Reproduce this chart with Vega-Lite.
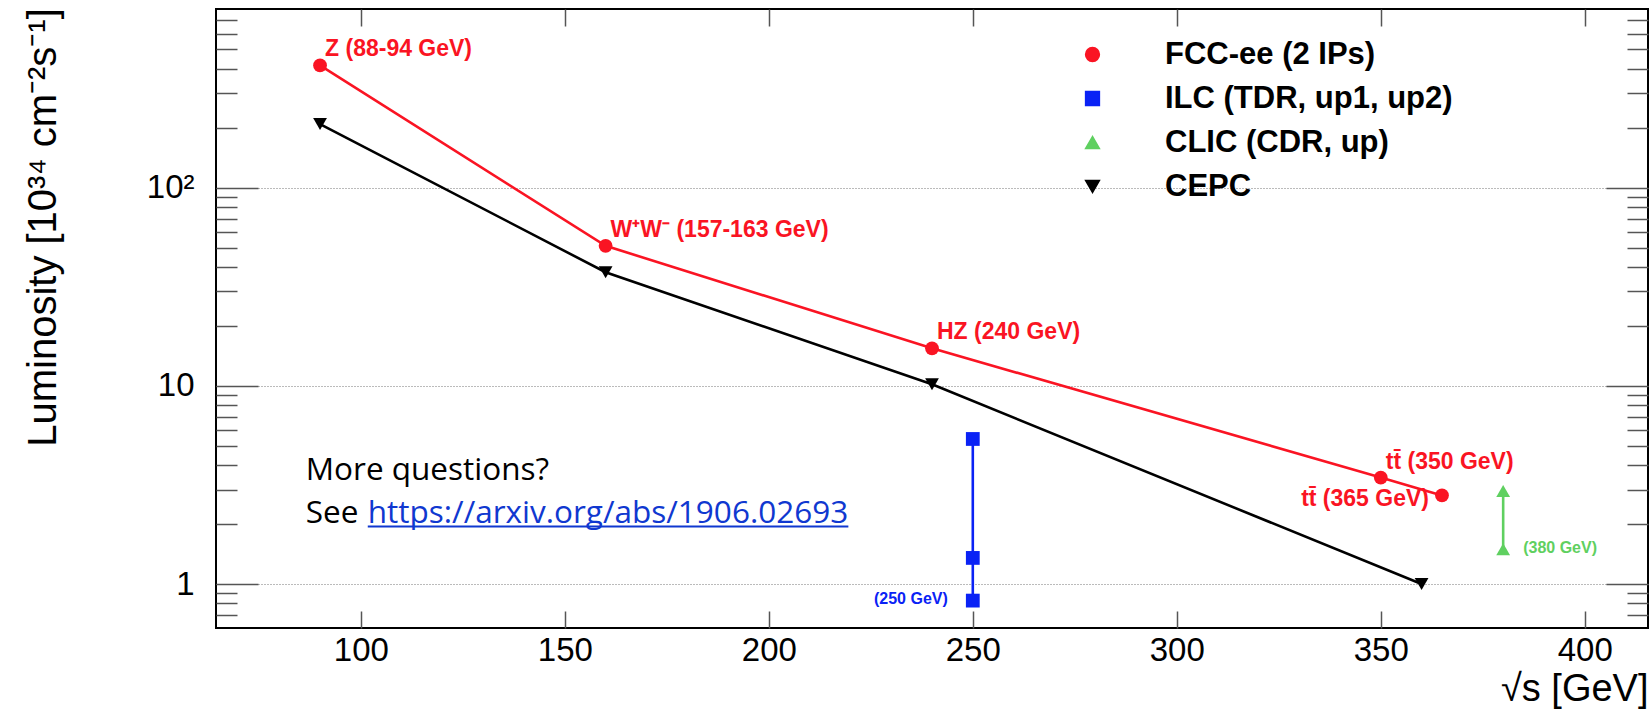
{
  "$schema": "https://vega.github.io/schema/vega-lite/v6.json",
  "width": 1432,
  "height": 619,
  "autosize": {"type": "none"},
  "padding": {"left": 216, "top": 9, "right": 3, "bottom": 85},
  "background": "white",
  "config": {
    "view": {"stroke": "black", "strokeWidth": 2},
    "font": "Liberation Sans",
    "axis": {"labelFont": "Liberation Sans", "titleFont": "Liberation Sans", "labelColor": "black", "titleColor": "black"}
  },
  "datasets": {
    "pts": [
      {"series": "FCC-ee (2 IPs)", "x": 90, "y": 415},
      {"series": "FCC-ee (2 IPs)", "x": 160, "y": 51},
      {"series": "FCC-ee (2 IPs)", "x": 240, "y": 15.5},
      {"series": "FCC-ee (2 IPs)", "x": 350, "y": 3.45},
      {"series": "FCC-ee (2 IPs)", "x": 365, "y": 2.8},
      {"series": "ILC (TDR, up1, up2)", "x": 250, "y": 0.825},
      {"series": "ILC (TDR, up1, up2)", "x": 250, "y": 1.355},
      {"series": "ILC (TDR, up1, up2)", "x": 250, "y": 5.4},
      {"series": "CLIC (CDR, up)", "x": 380, "y": 1.5},
      {"series": "CLIC (CDR, up)", "x": 380, "y": 2.95},
      {"series": "CEPC", "x": 90, "y": 210},
      {"series": "CEPC", "x": 160, "y": 37.5},
      {"series": "CEPC", "x": 240, "y": 10.2},
      {"series": "CEPC", "x": 360, "y": 1.0}
    ],
    "labels": [
      {"kind": "redL", "text": "Z (88-94 GeV)", "x": 90, "y": 415},
      {"kind": "redL", "text": "W⁺W⁻ (157-163 GeV)", "x": 160, "y": 51},
      {"kind": "redL", "text": "HZ (240 GeV)", "x": 240, "y": 15.5},
      {"kind": "redL", "text": "tt̄ (350 GeV)", "x": 350, "y": 3.45},
      {"kind": "redR", "text": "tt̄ (365 GeV)", "x": 365, "y": 2.8},
      {"kind": "blue", "text": "(250 GeV)", "x": 250, "y": 0.825},
      {"kind": "green", "text": "(380 GeV)", "x": 380, "y": 1.5}
    ],
    "note": [
      {"kind": "plain", "text": "More questions?", "x": 86.5, "y": 3.34},
      {"kind": "plain", "text": "See", "x": 86.5, "y": 2.03},
      {"kind": "link", "text": "https://arxiv.org/abs/1906.02693", "x": 101.7, "y": 2.03}
    ],
    "underline": [{"x": 101.7, "x2": 219.5, "y": 1.955}]
  },
  "resolve": {"axis": {"x": "independent", "y": "independent"}},
  "layer": [
    {
      "data": {"name": "pts"},
      "mark": {"type": "line", "strokeWidth": 2.6},
      "encoding": {
        "x": {"field": "x", "type": "quantitative", "scale": {"domain": [64.5, 415.5], "nice": false, "zero": false},
          "axis": {"orient": "bottom", "values": [100, 150, 200, 250, 300, 350, 400], "ticks": false, "domain": false, "grid": false,
            "labelFontSize": 33, "labelPadding": 6, "labelBaseline": "top",
            "title": "√s [GeV]", "titleFontSize": 38, "titleFontWeight": "normal", "titleAlign": "right", "titleAnchor": "end",
            "titleX": 1432, "titleY": 72, "titleBaseline": "alphabetic"}},
        "y": {"field": "y", "type": "quantitative", "scale": {"type": "log", "domain": [0.6, 800], "nice": false},
          "axis": {"orient": "left", "values": [1, 10, 100], "ticks": false, "domain": false, "grid": true, "gridDash": [1, 2], "gridColor": "#777777", "gridWidth": 1,
            "labelExpr": "datum.value >= 100 ? '10²' : (datum.value >= 10 ? '10' : '1')",
            "labelFontSize": 33, "labelPadding": 22,
            "title": "Luminosity [10³⁴ cm⁻²s⁻¹]", "titleFontSize": 40, "titleFontWeight": "normal",
            "titleX": -161, "titleY": 218, "titleAlign": "center", "titleBaseline": "alphabetic", "titleAngle": 270}},
        "color": {"field": "series", "type": "nominal",
          "scale": {"domain": ["FCC-ee (2 IPs)", "ILC (TDR, up1, up2)", "CLIC (CDR, up)", "CEPC"], "range": ["#fa1423", "#0a22f5", "#5fd060", "#000000"]},
          "legend": {"orient": "none", "legendX": 861, "legendY": 30, "title": null, "labelFontSize": 31, "labelFontWeight": "bold",
            "labelFont": "Liberation Sans", "labelColor": "black", "labelOffset": 57, "labelLimit": 0, "rowPadding": 12, "symbolSize": 190}},
        "detail": {"field": "series", "type": "nominal"}
      }
    },
    {
      "data": {"name": "pts"},
      "mark": {"type": "point", "filled": true, "opacity": 1, "size": 190},
      "encoding": {
        "x": {"field": "x", "type": "quantitative", "scale": {"domain": [64.5, 415.5], "nice": false, "zero": false},
          "axis": {"orient": "bottom", "values": [100, 150, 200, 250, 300, 350, 400], "labels": false, "domain": false, "grid": false,
            "ticks": true, "tickSize": -17, "tickColor": "#555555", "tickWidth": 1.5, "title": null}},
        "y": {"field": "y", "type": "quantitative", "scale": {"type": "log", "domain": [0.6, 800], "nice": false},
          "axis": {"orient": "left", "values": [0.7, 0.8, 0.9, 1, 2, 3, 4, 5, 6, 7, 8, 9, 10, 20, 30, 40, 50, 60, 70, 80, 90, 100, 200, 300, 400, 500, 600, 700],
            "labels": false, "domain": false, "grid": false, "ticks": true,
            "tickSize": {"condition": {"test": "datum.value == 1 || datum.value == 10 || datum.value == 100", "value": -42}, "value": -21},
            "tickColor": "#555555", "tickWidth": 1.5, "title": null}},
        "color": {"field": "series", "type": "nominal",
          "scale": {"domain": ["FCC-ee (2 IPs)", "ILC (TDR, up1, up2)", "CLIC (CDR, up)", "CEPC"], "range": ["#fa1423", "#0a22f5", "#5fd060", "#000000"]},
          "legend": {"orient": "none", "legendX": 861, "legendY": 30, "title": null, "labelFontSize": 31, "labelFontWeight": "bold",
            "labelFont": "Liberation Sans", "labelColor": "black", "labelOffset": 57, "labelLimit": 0, "rowPadding": 12, "symbolSize": 190}},
        "shape": {"field": "series", "type": "nominal",
          "scale": {"domain": ["FCC-ee (2 IPs)", "ILC (TDR, up1, up2)", "CLIC (CDR, up)", "CEPC"], "range": ["circle", "square", "triangle-up", "triangle-down"]}}
      }
    },
    {
      "data": {"name": "labels"},
      "transform": [{"filter": "datum.kind == 'redL'"}],
      "mark": {"type": "text", "align": "left", "baseline": "alphabetic", "dx": 5, "dy": -9, "fontSize": 23, "fontWeight": "bold", "font": "Liberation Sans", "color": "#fa1423"},
      "encoding": {
        "x": {"field": "x", "type": "quantitative", "scale": {"domain": [64.5, 415.5], "nice": false, "zero": false},
          "axis": {"orient": "top", "values": [100, 150, 200, 250, 300, 350, 400], "labels": false, "domain": false, "grid": false,
            "ticks": true, "tickSize": -17, "tickColor": "#555555", "tickWidth": 1.5, "title": null}},
        "y": {"field": "y", "type": "quantitative", "scale": {"type": "log", "domain": [0.6, 800], "nice": false},
          "axis": {"orient": "right", "values": [0.7, 0.8, 0.9, 1, 2, 3, 4, 5, 6, 7, 8, 9, 10, 20, 30, 40, 50, 60, 70, 80, 90, 100, 200, 300, 400, 500, 600, 700],
            "labels": false, "domain": false, "grid": false, "ticks": true,
            "tickSize": {"condition": {"test": "datum.value == 1 || datum.value == 10 || datum.value == 100", "value": -42}, "value": -21},
            "tickColor": "#555555", "tickWidth": 1.5, "title": null}},
        "text": {"field": "text"}
      }
    },
    {
      "data": {"name": "labels"},
      "transform": [{"filter": "datum.kind == 'redR'"}],
      "mark": {"type": "text", "align": "right", "baseline": "alphabetic", "dx": -13, "dy": 11, "fontSize": 23, "fontWeight": "bold", "font": "Liberation Sans", "color": "#fa1423"},
      "encoding": {
        "x": {"field": "x", "type": "quantitative", "scale": {"domain": [64.5, 415.5], "nice": false, "zero": false}, "axis": null},
        "y": {"field": "y", "type": "quantitative", "scale": {"type": "log", "domain": [0.6, 800], "nice": false}, "axis": null},
        "text": {"field": "text"}
      }
    },
    {
      "data": {"name": "labels"},
      "transform": [{"filter": "datum.kind == 'blue'"}],
      "mark": {"type": "text", "align": "right", "baseline": "alphabetic", "dx": -25, "dy": 3, "fontSize": 16, "fontWeight": "bold", "font": "Liberation Sans", "color": "#0a22f5"},
      "encoding": {
        "x": {"field": "x", "type": "quantitative", "scale": {"domain": [64.5, 415.5], "nice": false, "zero": false}, "axis": null},
        "y": {"field": "y", "type": "quantitative", "scale": {"type": "log", "domain": [0.6, 800], "nice": false}, "axis": null},
        "text": {"field": "text"}
      }
    },
    {
      "data": {"name": "labels"},
      "transform": [{"filter": "datum.kind == 'green'"}],
      "mark": {"type": "text", "align": "left", "baseline": "alphabetic", "dx": 20, "dy": 4, "fontSize": 16, "fontWeight": "bold", "font": "Liberation Sans", "color": "#5fd060"},
      "encoding": {
        "x": {"field": "x", "type": "quantitative", "scale": {"domain": [64.5, 415.5], "nice": false, "zero": false}, "axis": null},
        "y": {"field": "y", "type": "quantitative", "scale": {"type": "log", "domain": [0.6, 800], "nice": false}, "axis": null},
        "text": {"field": "text"}
      }
    },
    {
      "data": {"name": "note"},
      "transform": [{"filter": "datum.kind == 'plain'"}],
      "mark": {"type": "text", "align": "left", "baseline": "alphabetic", "fontSize": 31.5, "font": "Open Sans", "color": "black"},
      "encoding": {
        "x": {"field": "x", "type": "quantitative", "scale": {"domain": [64.5, 415.5], "nice": false, "zero": false}, "axis": null},
        "y": {"field": "y", "type": "quantitative", "scale": {"type": "log", "domain": [0.6, 800], "nice": false}, "axis": null},
        "text": {"field": "text"}
      }
    },
    {
      "data": {"name": "note"},
      "transform": [{"filter": "datum.kind == 'link'"}],
      "mark": {"type": "text", "align": "left", "baseline": "alphabetic", "fontSize": 31.5, "font": "Open Sans", "color": "#1038d0"},
      "encoding": {
        "x": {"field": "x", "type": "quantitative", "scale": {"domain": [64.5, 415.5], "nice": false, "zero": false}, "axis": null},
        "y": {"field": "y", "type": "quantitative", "scale": {"type": "log", "domain": [0.6, 800], "nice": false}, "axis": null},
        "text": {"field": "text"}
      }
    },
    {
      "data": {"name": "underline"},
      "mark": {"type": "rule", "color": "#1038d0", "strokeWidth": 2},
      "encoding": {
        "x": {"field": "x", "type": "quantitative", "scale": {"domain": [64.5, 415.5], "nice": false, "zero": false}, "axis": null},
        "x2": {"field": "x2"},
        "y": {"field": "y", "type": "quantitative", "scale": {"type": "log", "domain": [0.6, 800], "nice": false}, "axis": null}
      }
    }
  ]
}
